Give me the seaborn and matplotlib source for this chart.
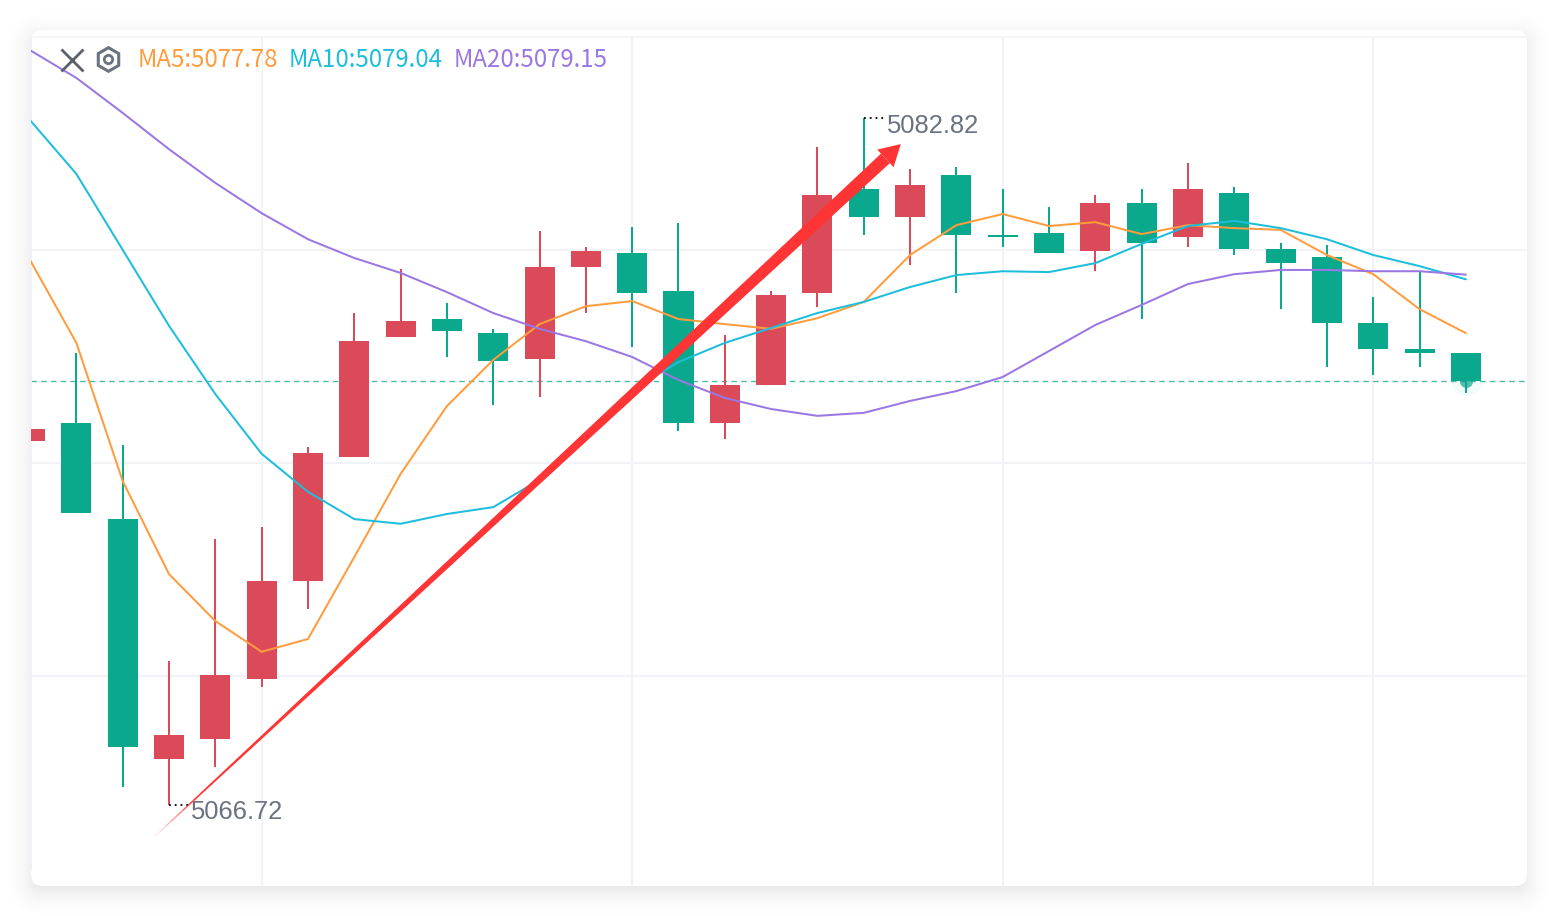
import numpy as np
import pandas as pd
import matplotlib.pyplot as plt
import seaborn as sns
from matplotlib.lines import Line2D
from matplotlib.patches import FancyBboxPatch
from matplotlib.transforms import IdentityTransform

W, H = 1556, 916

# candles, oldest first
opens = [5075.25, 5075.67, 5073.42, 5067.80, 5068.27, 5069.67, 5071.97, 5074.88,
         5077.69, 5078.11, 5077.78, 5077.17, 5079.33, 5079.66, 5078.77, 5075.67,
         5076.56, 5078.72, 5081.16, 5080.50, 5081.48, 5080.08, 5080.13, 5079.70,
         5080.83, 5080.03, 5081.06, 5079.75, 5079.56, 5078.02, 5077.41, 5077.31]
closes = [5075.53, 5073.56, 5068.08, 5068.36, 5069.77, 5071.97, 5074.97, 5077.59,
          5078.06, 5077.83, 5077.13, 5079.33, 5079.70, 5078.72, 5075.67, 5076.56,
          5078.67, 5081.02, 5080.50, 5081.25, 5080.08, 5080.03, 5079.66, 5080.83,
          5079.89, 5081.16, 5079.75, 5079.42, 5078.02, 5077.41, 5077.31, 5076.66]
highs = [5075.53, 5077.31, 5075.16, 5070.09, 5072.95, 5073.23, 5075.11, 5078.25,
         5079.28, 5078.48, 5077.88, 5080.17, 5079.80, 5080.27, 5080.36, 5077.73,
         5078.77, 5082.14, 5082.82, 5081.63, 5081.67, 5081.16, 5080.73, 5081.02,
         5081.16, 5081.77, 5081.20, 5079.89, 5079.84, 5078.63, 5079.23, 5077.31]
lows = [5075.25, 5073.56, 5067.14, 5066.72, 5067.61, 5069.48, 5071.31, 5074.88,
        5077.69, 5077.22, 5076.09, 5076.28, 5078.25, 5077.45, 5075.48, 5075.30,
        5076.56, 5078.39, 5080.08, 5079.38, 5078.72, 5079.80, 5079.66, 5079.23,
        5078.11, 5079.80, 5079.61, 5078.34, 5076.98, 5076.80, 5076.98, 5076.38]

ma5 = [5079.49, 5077.55, 5074.31, 5072.13, 5071.03, 5070.31, 5070.61, 5072.53,
       5074.48, 5076.07, 5077.15, 5077.99, 5078.41, 5078.53, 5078.11, 5077.99,
       5077.88, 5078.13, 5078.51, 5079.61, 5080.31, 5080.57, 5080.29, 5080.38,
       5080.10, 5080.31, 5080.24, 5080.20, 5079.61, 5079.16, 5078.34, 5077.78]
ma10 = [5082.77, 5081.51, 5079.73, 5077.95, 5076.35, 5074.95, 5074.06, 5073.42,
        5073.31, 5073.54, 5073.70, 5074.34, 5075.34, 5076.45, 5077.10, 5077.55,
        5077.90, 5078.25, 5078.51, 5078.86, 5079.14, 5079.23, 5079.21, 5079.42,
        5079.87, 5080.29, 5080.41, 5080.24, 5079.98, 5079.61, 5079.35, 5079.04]
ma20 = [5084.41, 5083.76, 5082.94, 5082.09, 5081.30, 5080.59, 5079.98, 5079.54,
        5079.19, 5078.74, 5078.25, 5077.88, 5077.59, 5077.22, 5076.68, 5076.26,
        5076.00, 5075.84, 5075.91, 5076.19, 5076.42, 5076.75, 5077.36, 5077.97,
        5078.44, 5078.93, 5079.16, 5079.26, 5079.26, 5079.23, 5079.23, 5079.15]

last_price = 5076.66
grid_prices = [5079.73, 5074.74, 5069.75]
grid_candles = [5, 13, 21, 29]
high_label = "5082.82"
low_label = "5066.72"
arrow_from = (2.70, 5065.99)
arrow_to = (18.80, 5082.21)

UP = "#DB4A58"
DOWN = "#0AA88C"
GRID = "#F2F3F7"
GREY = "#6B7280"
MA_COLORS = {"MA5": "#FF9C3D", "MA10": "#1CBEDC", "MA20": "#9B77E4"}

sns.set_theme(style="white")
plt.rcParams["font.family"] = ["Liberation Sans", "DejaVu Sans"]

fig = plt.figure(figsize=(W / 100, H / 100), dpi=100, facecolor="white")

# card with soft shadow, kept behind the axes; opaque greys from the outside in
for grow in range(28, -7, -1):
    dark = 22 * (1 - (grow + 6) / 34) ** 2
    shade = (255 - dark) / 255
    fig.add_artist(FancyBboxPatch((31 - grow, 30 - 6 - grow), 1496 + 2 * grow, 856 + 2 * grow,
                                  boxstyle=f"round,pad=0,rounding_size={max(12 + grow, 6)}",
                                  transform=IdentityTransform(), fc=(shade, shade, shade),
                                  ec="none", zorder=-3))
fig.add_artist(FancyBboxPatch((31, 30), 1496, 856, boxstyle="round,pad=0,rounding_size=12",
                              transform=IdentityTransform(), fc="white", ec="none", zorder=-2))

ax = fig.add_axes([31 / W, 30 / H, 1496 / W, 849 / H], facecolor="none")

n = len(opens)
idx = np.arange(n)
df = pd.DataFrame({"idx": idx, "open": opens, "close": closes, "high": highs, "low": lows,
                   "MA5": ma5, "MA10": ma10, "MA20": ma20})
df["color"] = np.where(df["close"] >= df["open"], UP, DOWN)

ax.vlines(df["idx"], df["low"], df["high"], colors=df["color"], lw=1.45, zorder=3)
ax.bar(df["idx"], (df["close"] - df["open"]).abs(), bottom=df[["open", "close"]].min(axis=1),
       width=0.648, color=df["color"], linewidth=0, zorder=3)

long_df = df.melt(id_vars="idx", value_vars=list(MA_COLORS), var_name="ma", value_name="price")
sns.lineplot(data=long_df, x="idx", y="price", hue="ma", palette=MA_COLORS, lw=1.45,
             legend=False, ax=ax, zorder=4)

ax.axhline(last_price, color=DOWN, lw=1.0, ls=(0, (4, 3)), alpha=0.75, zorder=2)
# pulse on the last price, half hidden by the candle body
ax.scatter([n - 1], [last_price], s=480, color=DOWN, alpha=0.04, linewidths=0, zorder=2.5)
ax.scatter([n - 1], [last_price], s=88, color=DOWN, alpha=0.7, linewidths=0, zorder=2.5)

ax.set_xlim(0.02, 32.32)
ax.set_ylim(5064.82, 5084.72)
ax.set_xticks(grid_candles)
ax.set_yticks(grid_prices)
ax.set_xticklabels([])
ax.set_yticklabels([])
ax.tick_params(length=0)
ax.set_xlabel("")
ax.set_ylabel("")
ax.grid(True, color=GRID, lw=1.5, zorder=0)
ax.set_axisbelow(True)
for side, spine in ax.spines.items():
    spine.set_visible(side in ("top", "left"))
    spine.set_color("#EEF0F6" if side == "left" else GRID)
    spine.set_linewidth(1.2)
ax.spines["left"].set_bounds(5065.2, 5084.72)

# high / low markers
hi = int(np.argmax(highs))
lo = int(np.argmin(lows))
ax.plot([hi, hi + 0.45], [highs[hi], highs[hi]], color="black", lw=1.3, ls=(0, (1, 2.2)), zorder=5)
ax.plot([lo, lo + 0.45], [lows[lo], lows[lo]], color="black", lw=1.3, ls=(0, (1, 2.2)), zorder=5)
ax.annotate(high_label, (hi, highs[hi]), xytext=(16.5, -5.7), textcoords="offset points",
            color=GREY, fontsize=18.4, va="center", zorder=6)
ax.annotate(low_label, (lo, lows[lo]), xytext=(16, -5.4), textcoords="offset points",
            color=GREY, fontsize=18.4, va="center", zorder=6)

# drawn trend arrow, tapers to a hairline at the tail
p0 = ax.transData.transform(arrow_from)
p1 = ax.transData.transform(arrow_to)
u = (p1 - p0) / np.hypot(*(p1 - p0))
nrm = np.array([-u[1], u[0]])
head_len, head_w, neck_w = 21, 24, 12
neck = p1 - u * head_len


def half_width(t):
    return (neck_w * t + 1.0) / 2


def shaft(t0, t1):
    a, b = p0 + (neck - p0) * t0, p0 + (neck - p0) * t1
    return np.array([a + nrm * half_width(t0), b + nrm * half_width(t1),
                     b - nrm * half_width(t1), a - nrm * half_width(t0)])


inv = ax.transData.inverted()
steps = np.linspace(0, 0.06, 9)
for t0, t1 in zip(steps[:-1], steps[1:]):
    xy = inv.transform(shaft(t0, t1))
    ax.fill(xy[:, 0], xy[:, 1], color="#FF3535", alpha=float(t1 / 0.06), lw=0, zorder=7)
xy = inv.transform(shaft(0.06, 1.0))
ax.fill(xy[:, 0], xy[:, 1], color="#FF3535", lw=0, zorder=7)
xy = inv.transform(np.array([neck + nrm * head_w / 2, p1, neck - nrm * head_w / 2]))
ax.fill(xy[:, 0], xy[:, 1], color="#FF3535", lw=0, zorder=7)

# header: icons and moving average readout
fig.add_artist(Line2D([72 / W], [1 - 60 / H], marker="x", ms=16.5, mew=2.0, color="#5B606B",
                      transform=fig.transFigure))
fig.add_artist(Line2D([108 / W], [1 - 59 / H], marker="h", ms=17, mew=2.2, mfc="none", color=GREY,
                      transform=fig.transFigure))
fig.add_artist(Line2D([108 / W], [1 - 59 / H], marker="o", ms=6, mew=2.0, mfc="none", color=GREY,
                      transform=fig.transFigure))

readout_x = {"MA5": 138, "MA10": 289, "MA20": 454}
for name, values in zip(MA_COLORS, (ma5, ma10, ma20)):
    fig.text(readout_x[name] / W, 1 - 60 / H, f"{name}:{values[-1]:.2f}", color=MA_COLORS[name],
             fontsize=17.3, va="center", family=["Noto Sans CJK SC", "DejaVu Sans"])

fig.savefig("out.png", dpi=100)
